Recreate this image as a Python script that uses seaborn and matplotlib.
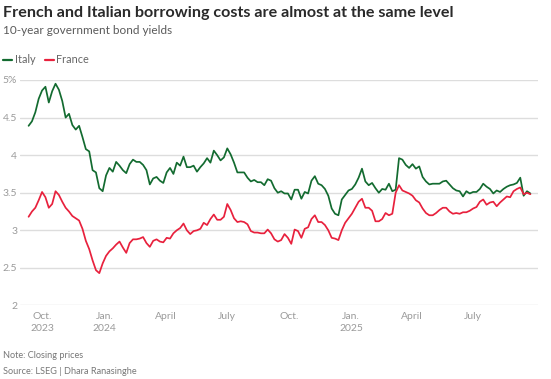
import pandas as pd
import seaborn as sns
import matplotlib.pyplot as plt

# 10-year government bond yields, % (~5-day steps)
start_date = "2023-09-10"
step = "5D"

italy = [4.39, 4.45, 4.57, 4.75, 4.86, 4.91, 4.70, 4.85, 4.95, 4.87,
         4.72, 4.50, 4.55, 4.40, 4.34, 4.39, 4.24, 4.08, 4.05, 3.80,
         3.77, 3.56, 3.52, 3.73, 3.83, 3.78, 3.91, 3.86, 3.80, 3.76,
         3.88, 3.94, 3.91, 3.91, 3.87, 3.80, 3.61, 3.69, 3.71, 3.66,
         3.63, 3.77, 3.83, 3.75, 3.90, 3.86, 3.98, 3.84, 3.84, 3.86,
         3.78, 3.84, 3.89, 3.96, 3.90, 4.06, 4.00, 3.93, 3.97, 4.09,
         4.01, 3.90, 3.77, 3.77, 3.77, 3.70, 3.65, 3.67, 3.64, 3.64,
         3.60, 3.68, 3.66, 3.56, 3.50,
         3.52, 3.49, 3.49, 3.41, 3.54, 3.54, 3.42, 3.51, 3.49, 3.66,
         3.72, 3.62, 3.60, 3.55, 3.46, 3.29, 3.22, 3.20, 3.41, 3.47,
         3.53, 3.55, 3.61, 3.70, 3.82, 3.65, 3.60, 3.63, 3.56, 3.50,
         3.55, 3.54, 3.62, 3.52, 3.54, 3.96, 3.94, 3.87, 3.83, 3.88,
         3.82, 3.85, 3.71, 3.65, 3.61, 3.62, 3.62, 3.62, 3.65, 3.66,
         3.61, 3.56, 3.53, 3.52, 3.45, 3.52, 3.49, 3.51, 3.51, 3.55,
         3.62, 3.58, 3.55, 3.49, 3.53, 3.51, 3.55, 3.58, 3.60, 3.61,
         3.63, 3.70, 3.46, 3.52, 3.49]

france = [3.18, 3.25, 3.30, 3.40, 3.51, 3.44, 3.30, 3.35, 3.52, 3.47,
          3.38, 3.30, 3.25, 3.19, 3.16, 3.13, 3.02, 2.86, 2.75, 2.60,
          2.47, 2.43, 2.56, 2.66, 2.72, 2.76, 2.81, 2.85, 2.77, 2.70,
          2.83, 2.88, 2.88, 2.89, 2.91, 2.83, 2.78, 2.86, 2.88, 2.85,
          2.84, 2.90, 2.89, 2.96, 3.00, 3.03, 3.09, 3.00, 2.95, 2.99,
          3.00, 3.02, 3.10, 3.07, 3.15, 3.21, 3.14, 3.14, 3.18, 3.35,
          3.27, 3.16, 3.11, 3.12, 3.11, 3.08, 2.99, 2.97, 2.97, 2.96,
          2.96, 3.01, 2.96, 2.88, 2.85,
          2.87, 2.95, 2.90, 2.82, 3.01, 2.99, 2.90, 3.02, 3.04, 3.15,
          3.20, 3.11, 3.11, 3.07, 3.00, 2.90, 2.89, 2.87, 3.00, 3.10,
          3.16, 3.22, 3.30, 3.38, 3.42, 3.30, 3.30, 3.26, 3.12, 3.12,
          3.15, 3.23, 3.20, 3.22, 3.50, 3.60, 3.53, 3.51, 3.49, 3.46,
          3.40, 3.37, 3.29, 3.23, 3.20, 3.20, 3.23, 3.27, 3.30, 3.30,
          3.25, 3.22, 3.23, 3.22, 3.24, 3.24, 3.26, 3.29, 3.31, 3.38,
          3.41, 3.34, 3.37, 3.38, 3.32, 3.37, 3.41, 3.45, 3.44, 3.52,
          3.55, 3.57, 3.48, 3.50, 3.48]

tick_dates = ["2023-10-01", "2024-01-01", "2024-04-01", "2024-07-01",
              "2024-10-01", "2025-01-01", "2025-04-01", "2025-07-01"]
tick_labels = ["Oct.\n2023", "Jan.\n2024", "April", "July",
               "Oct.", "Jan.\n2025", "April", "July"]
y_ticks = [2, 2.5, 3, 3.5, 4, 4.5, 5]
y_labels = ["2", "2.5", "3", "3.5", "4", "4.5", "5%"]

dates = pd.date_range(start_date, periods=len(italy), freq=step)
df = pd.concat([
    pd.DataFrame({"date": dates, "yield": italy, "country": "Italy"}),
    pd.DataFrame({"date": dates, "yield": france, "country": "France"}),
])

sns.set_style("white")
plt.rcParams["font.family"] = ["Lato", "DejaVu Sans"]

fig = plt.figure(figsize=(5.51, 3.79), dpi=100)
ax = fig.add_axes([0.036, 0.194, 0.94, 0.595])

palette = {"Italy": "#136b30", "France": "#e8213d"}
sns.lineplot(data=df, x="date", y="yield", hue="country", palette=palette,
             linewidth=1.25, ax=ax, legend=False)

ax.set_ylim(2, 5)
ax.set_xlim(pd.Timestamp("2023-08-28"), pd.Timestamp("2025-10-05"))
ax.set_yticks(y_ticks)
ax.set_yticklabels(y_labels)
ax.set_xticks(pd.to_datetime(tick_dates))
ax.set_xticklabels(tick_labels, linespacing=1.3)
ax.tick_params(axis="both", length=0, labelcolor="#9a9a9a", labelsize=7.5)
ax.tick_params(axis="y", pad=2)
ax.tick_params(axis="x", pad=5)
ax.grid(axis="y", color="#dddddd", linewidth=1)
ax.set_axisbelow(True)
for s in ax.spines.values():
    s.set_visible(False)
ax.set_xlabel("")
ax.set_ylabel("")
for line in ax.lines:
    line.set_clip_on(False)

fig.text(0.006, 0.985, "French and Italian borrowing costs are almost at the same level",
         fontsize=11.6, fontweight="bold", color="#2a2a2a", va="top")
fig.text(0.006, 0.935, "10-year government bond yields",
         fontsize=8.5, color="#5a5a5a", va="top")

handles = [plt.Line2D([], [], color=palette[c], linewidth=1.6) for c in ["Italy", "France"]]
fig.legend(handles, ["Italy", "France"], loc="upper left",
           bbox_to_anchor=(-0.012, 0.882), ncol=2, frameon=False,
           handlelength=0.8, handletextpad=0.25, columnspacing=0.9,
           fontsize=7.8, labelcolor="#666666")

fig.text(0.006, 0.062, "Note: Closing prices", fontsize=6.6, color="#777777", va="center")
fig.text(0.006, 0.02, "Source: LSEG | Dhara Ranasinghe", fontsize=6.6, color="#777777", va="center")

fig.savefig("out.png", dpi=100)
